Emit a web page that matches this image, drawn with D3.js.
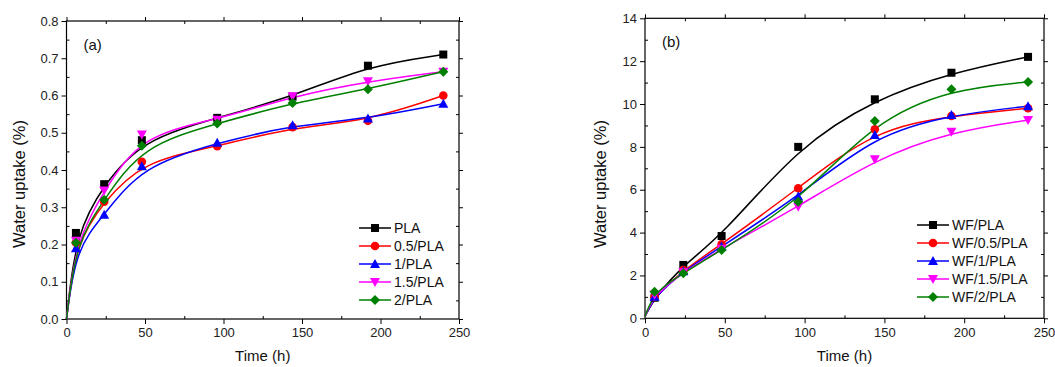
<!DOCTYPE html>
<html>
<head>
<meta charset="utf-8">
<script src="https://cdn.jsdelivr.net/npm/d3@7"></script>
<style>
  body { margin: 0; background: #fff; }
  svg { font-family: "Liberation Sans", Arial, sans-serif; }
</style>
</head>
<body>
<svg id="chart" width="1055" height="367"></svg>
<script>
// sampling times (h)
const times = [0, 6, 24, 48, 96, 144, 192, 240];

// panel (a) - water uptake (%)
const seriesA = ['PLA', '0.5/PLA', '1/PLA', '1.5/PLA', '2/PLA'];
const pla      = [0, 0.231, 0.362, 0.480, 0.540, 0.597, 0.680, 0.710];
const pla05    = [0, 0.205, 0.315, 0.422, 0.464, 0.515, 0.532, 0.600];
const pla1     = [0, 0.190, 0.280, 0.410, 0.473, 0.520, 0.538, 0.578];
const pla15    = [0, 0.210, 0.345, 0.495, 0.535, 0.598, 0.638, 0.664];
const pla2     = [0, 0.205, 0.320, 0.465, 0.525, 0.580, 0.617, 0.664];

// panel (b) - water uptake (%)
const seriesB = ['WF/PLA', 'WF/0.5/PLA', 'WF/1/PLA', 'WF/1.5/PLA', 'WF/2/PLA'];
const wfPla   = [0.1, 0.96, 2.49, 3.84, 8.00, 10.22, 11.46, 12.20];
const wfPla05 = [0.1, 1.00, 2.25, 3.45, 6.07, 8.82, 9.44, 9.80];
const wfPla1  = [0.1, 1.00, 2.20, 3.35, 5.68, 8.55, 9.49, 9.90];
const wfPla15 = [0.1, 1.10, 2.15, 3.25, 5.20, 7.42, 8.71, 9.25];
const wfPla2  = [0.1, 1.24, 2.10, 3.19, 5.44, 9.21, 10.69, 11.03];

const colors = ['#000000', '#ff0000', '#0000ff', '#ff00ff', '#008000'];
const symbols = ['square', 'circle', 'triangle', 'triangleDown', 'diamond'];

const xTicks = [0, 50, 100, 150, 200, 250];
const yTicksA = [0, 0.1, 0.2, 0.3, 0.4, 0.5, 0.6, 0.7, 0.8];
const yTicksB = [0, 2, 4, 6, 8, 10, 12, 14];

const svg = d3.select('#chart');

function marker(g, type, x, y, color) {
  if (type === 'square') {
    g.append('rect').attr('x', x - 4).attr('y', y - 4).attr('width', 8).attr('height', 8).attr('fill', color);
  } else if (type === 'circle') {
    g.append('circle').attr('cx', x).attr('cy', y).attr('r', 4.3).attr('fill', color);
  } else if (type === 'triangle') {
    g.append('path').attr('d', `M${x},${y - 5}L${x + 5},${y + 4}L${x - 5},${y + 4}Z`).attr('fill', color);
  } else if (type === 'triangleDown') {
    g.append('path').attr('d', `M${x},${y + 5}L${x + 5},${y - 4}L${x - 5},${y - 4}Z`).attr('fill', color);
  } else {
    g.append('path').attr('d', `M${x},${y - 5}L${x + 5},${y}L${x},${y + 5}L${x - 5},${y}Z`).attr('fill', color);
  }
}

function drawPanel(cfg) {
  const x = d3.scaleLinear().domain([0, 250]).range([cfg.left, cfg.right]);
  const y = d3.scaleLinear().domain([0, cfg.yMax]).range([cfg.bottom, cfg.top]);
  const g = svg.append('g');

  // minor ticks (inside)
  const xMinor = d3.range(25, 250, 50);
  const yMinor = cfg.yMinor;
  const tickCol = '#222';

  g.append('g').attr('transform', `translate(0,${cfg.bottom})`)
    .call(d3.axisBottom(x).tickValues(xTicks).tickSize(5).tickSizeOuter(0).tickPadding(4).tickFormat(d3.format('d')))
    .call(a => a.select('.domain').remove())
    .call(a => a.selectAll('text').attr('font-size', 13).attr('fill', tickCol).attr('font-family', 'Liberation Sans, Arial'));
  g.append('g').attr('transform', `translate(${cfg.left},0)`)
    .call(d3.axisLeft(y).tickValues(cfg.yTicks).tickSize(5).tickSizeOuter(0).tickPadding(3).tickFormat(cfg.yFormat))
    .call(a => a.select('.domain').remove())
    .call(a => a.selectAll('text').attr('font-size', 13).attr('fill', tickCol).attr('font-family', 'Liberation Sans, Arial'));
  g.append('g').attr('transform', `translate(0,${cfg.top})`)
    .call(d3.axisTop(x).tickValues(xTicks).tickSize(4).tickSizeOuter(0).tickFormat(''))
    .call(a => a.select('.domain').remove());
  g.append('g').attr('transform', `translate(${cfg.right},0)`)
    .call(d3.axisRight(y).tickValues(cfg.yTicks).tickSize(4).tickSizeOuter(0).tickFormat(''))
    .call(a => a.select('.domain').remove());

  g.append('g').attr('transform', `translate(0,${cfg.bottom})`)
    .call(d3.axisTop(x).tickValues(xMinor).tickSize(3).tickFormat(''))
    .call(a => a.select('.domain').remove());
  g.append('g').attr('transform', `translate(0,${cfg.top})`)
    .call(d3.axisBottom(x).tickValues(xMinor).tickSize(3).tickFormat(''))
    .call(a => a.select('.domain').remove());
  g.append('g').attr('transform', `translate(${cfg.left},0)`)
    .call(d3.axisRight(y).tickValues(yMinor).tickSize(3).tickFormat(''))
    .call(a => a.select('.domain').remove());
  g.append('g').attr('transform', `translate(${cfg.right},0)`)
    .call(d3.axisLeft(y).tickValues(yMinor).tickSize(3).tickFormat(''))
    .call(a => a.select('.domain').remove());

  g.selectAll('.tick line').attr('stroke', '#000').attr('stroke-width', 1);

  // frame
  g.append('rect')
    .attr('x', cfg.left).attr('y', cfg.top)
    .attr('width', cfg.right - cfg.left).attr('height', cfg.bottom - cfg.top)
    .attr('fill', 'none').attr('stroke', '#000').attr('stroke-width', 1.2);

  // curves and markers
  const line = d3.line().x((d, i) => x(times[i])).y(d => y(d)).curve(d3.curveBasis);
  cfg.data.forEach((vals, k) => {
    g.append('path').datum(vals)
      .attr('d', line)
      .attr('fill', 'none')
      .attr('stroke', colors[k])
      .attr('stroke-width', 1.5);
  });
  cfg.data.forEach((vals, k) => {
    const mg = g.append('g');
    vals.forEach((v, i) => { if (i > 0) marker(mg, symbols[k], x(times[i]), y(v), colors[k]); });
  });

  // legend
  const lg = g.append('g');
  cfg.names.forEach((name, k) => {
    const ly = cfg.legY + k * 18;
    lg.append('line')
      .attr('x1', cfg.legX).attr('x2', cfg.legX + 32)
      .attr('y1', ly).attr('y2', ly)
      .attr('stroke', colors[k]).attr('stroke-width', 1.5);
    marker(lg, symbols[k], cfg.legX + 16, ly, colors[k]);
    lg.append('text')
      .attr('x', cfg.legX + 35).attr('y', ly + 5)
      .attr('font-size', 14).attr('fill', '#111')
      .text(name);
  });

  // panel label
  g.append('text')
    .attr('x', cfg.left + 17).attr('y', cfg.top + 29)
    .attr('font-size', 15).attr('fill', '#111')
    .text(cfg.label);

  // axis titles
  g.append('text')
    .attr('x', (cfg.left + cfg.right) / 2).attr('y', 361)
    .attr('text-anchor', 'middle').attr('font-size', 15).attr('fill', '#111')
    .text('Time (h)');
  g.append('text')
    .attr('transform', `translate(${cfg.titleX},184) rotate(-90)`)
    .attr('text-anchor', 'middle').attr('font-size', 16.5).attr('fill', '#111')
    .text('Water uptake (%)');
}

drawPanel({
  left: 66.5, right: 459, top: 21, bottom: 319,
  yMax: 0.8, yTicks: yTicksA, yMinor: d3.range(0.05, 0.8, 0.1),
  yFormat: d3.format('.1f'),
  data: [pla, pla05, pla1, pla15, pla2], names: seriesA,
  legX: 359, legY: 228, label: '(a)', titleX: 25
});

drawPanel({
  left: 645, right: 1044, top: 18.3, bottom: 318.3,
  yMax: 14, yTicks: yTicksB, yMinor: d3.range(1, 14, 2),
  yFormat: d3.format('d'),
  data: [wfPla, wfPla05, wfPla1, wfPla15, wfPla2], names: seriesB,
  legX: 917, legY: 225, label: '(b)', titleX: 606
});
</script>
</body>
</html>
